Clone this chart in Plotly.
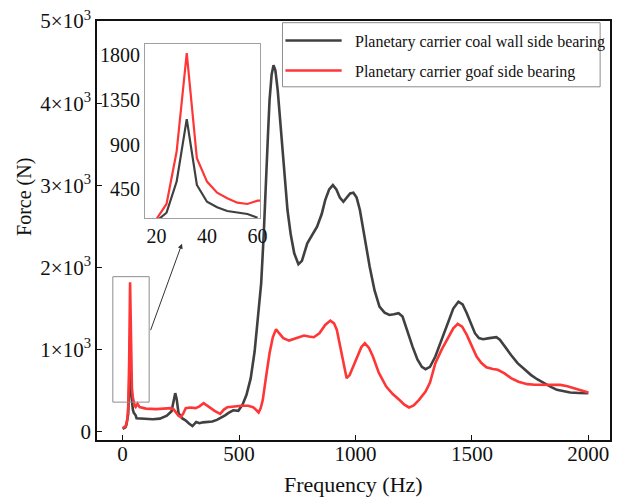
import plotly.graph_objects as go

# ---- data: bearing force spectra (Hz, N) ----
freq_coal = [0, 4, 8, 12, 16, 20, 24, 28, 32, 36, 40, 44, 48, 52, 56, 60, 75, 100, 130, 160,
             190, 210, 220, 226, 232, 240, 255, 270, 285, 300, 316, 330, 345, 365, 385, 405,
             420, 440, 455, 475, 497, 515, 532, 550, 567, 582, 595, 606, 617, 624, 631, 640,
             648, 656, 666, 676, 687, 698, 708, 722, 737, 755, 770, 793, 815, 835, 855, 870,
             887, 903, 918, 933, 948, 962, 977, 991, 1005, 1019, 1040, 1061, 1082, 1103,
             1125, 1146, 1165, 1185, 1202, 1224, 1245, 1266, 1285, 1301, 1320, 1343, 1370,
             1400, 1420, 1442, 1460, 1478, 1495, 1513, 1530, 1548, 1575, 1605, 1620, 1640,
             1668, 1696, 1725, 1753, 1780, 1809, 1837, 1865, 1895, 1922, 1960, 2000]
force_coal = [35, 40, 45, 55, 80, 130, 214, 527, 1155, 493, 325, 269, 231, 214, 201, 164, 160,
              155, 152, 160, 195, 250, 380, 470, 400, 230, 165, 140, 100, 70, 120, 105, 115,
              118, 125, 145, 166, 200, 230, 262, 255, 330, 450, 650, 980, 1400, 1807, 2400,
              3023, 3600, 4036, 4350, 4461, 4400, 4158, 3820, 3428, 3030, 2699, 2400, 2172,
              2039, 2080, 2294, 2400, 2496, 2650, 2820, 2950, 3003, 2950, 2850, 2800, 2850,
              2900, 2909, 2850, 2699, 2350, 2010, 1720, 1523, 1450, 1422, 1430, 1443, 1402,
              1200, 1037, 880, 790, 762, 790, 916, 1120, 1362, 1500, 1584, 1550, 1443, 1320,
              1200, 1140, 1127, 1140, 1151, 1120, 1037, 935, 835, 760, 693, 640, 592, 550,
              511, 490, 478, 472, 470]

freq_goaf = [0, 4, 8, 12, 16, 20, 24, 28, 32, 36, 40, 44, 48, 52, 56, 60, 64, 73, 100, 144,
             180, 207, 220, 231, 240, 250, 260, 271, 290, 313, 330, 348, 362, 377, 395, 419,
             435, 450, 480, 510, 539, 560, 575, 584, 593, 602, 615, 631, 645, 659, 672, 690,
             715, 745, 779, 800, 821, 845, 870, 892, 908, 920, 940, 962, 975, 991, 1010,
             1025, 1040, 1058, 1075, 1100, 1132, 1160, 1188, 1210, 1230, 1250, 1273, 1301,
             1320, 1343, 1370, 1400, 1420, 1439, 1458, 1478, 1500, 1520, 1540, 1562, 1590,
             1611, 1640, 1668, 1700, 1738, 1770, 1809, 1845, 1880, 1910, 1936, 1970, 2000]
force_goaf = [45, 50, 55, 65, 95, 150, 302, 829, 1820, 762, 527, 416, 359, 315, 302, 335, 340,
              300, 282, 276, 278, 288, 270, 227, 195, 180, 220, 288, 295, 288, 310, 349, 320,
              288, 255, 219, 270, 300, 310, 316, 316, 300, 262, 235, 290, 389, 650, 956, 1150,
              1248, 1200, 1140, 1110, 1140, 1171, 1160, 1151, 1200, 1300, 1353, 1320, 1240,
              950, 653, 690, 794, 930, 1030, 1078, 1020, 916, 720, 551, 460, 389, 330, 296,
              320, 389, 490, 600, 835, 1000, 1159, 1260, 1313, 1280, 1179, 1050, 916, 840,
              786, 765, 754, 710, 653, 610, 580, 572, 571, 570, 571, 555, 531, 505, 478]

series_names = ["Planetary carrier coal wall side bearing",
                "Planetary carrier goaf side bearing"]
series_colors = ["#404040", "#ff3636"]

x_ticks = [0, 500, 1000, 1500, 2000]
y_ticks = [0, 1000, 2000, 3000, 4000, 5000]
y_ticktext = ["0"] + [f"{k}×10<sup>3</sup>" for k in range(1, 6)]
inset_x_ticks = [20, 40, 60]
inset_y_ticks = [450, 900, 1350, 1800]

# ---- page geometry ----
W, H = 619, 497
ML, MR, MT, MB = 97, 2, 21, 57
PW, PH = W - ML - MR, H - MT - MB


def fx(px):
    """pixel column -> paper x"""
    return (px - ML) / PW


def fy(py):
    """pixel row -> paper y"""
    return (H - MB - py) / PH


FONT = "Liberation Serif"

fig = go.Figure()

# main spectra
for xs, ys, name, col in [(freq_coal, force_coal, series_names[0], series_colors[0]),
                          (freq_goaf, force_goaf, series_names[1], series_colors[1])]:
    fig.add_trace(go.Scatter(x=xs, y=ys, mode="lines", name=name,
                             line=dict(color=col, width=2.6), showlegend=False,
                             xaxis="x", yaxis="y"))

# zoomed inset of the low-frequency peak
for xs, ys, col in [(freq_coal, force_coal, series_colors[0]),
                    (freq_goaf, force_goaf, series_colors[1])]:
    sel = [i for i, f in enumerate(xs) if f <= 64]
    fig.add_trace(go.Scatter(x=[xs[i] for i in sel], y=[ys[i] for i in sel], mode="lines",
                             line=dict(color=col, width=2.2), showlegend=False,
                             xaxis="x2", yaxis="y2"))

axis_common = dict(showgrid=False, zeroline=False, showline=True,
                   tickfont=dict(family=FONT, size=21, color="#111"))

fig.update_layout(
    width=W, height=H,
    margin=dict(l=ML, r=MR, t=MT, b=MB),
    paper_bgcolor="white", plot_bgcolor="rgba(0,0,0,0)",
    font=dict(family=FONT, color="#111"),
    xaxis=dict(axis_common, range=[-110, 2093], tickvals=x_ticks, ticks="inside",
               ticklen=5, tickwidth=1.3, tickcolor="#111", linecolor="#111", linewidth=1.5,
               mirror=True, domain=[0, 1], ticklabelstandoff=-6),
    yaxis=dict(axis_common, range=[-100, 5000], tickvals=y_ticks, ticktext=y_ticktext,
               ticks="inside", ticklen=5, tickwidth=1.3, tickcolor="#111",
               linecolor="#111", linewidth=1.5, mirror=True, domain=[0, 1]),
    xaxis2=dict(axis_common, anchor="y2", range=[15.5, 61], tickvals=inset_x_ticks,
                ticks="", linecolor="#a0a0a0", linewidth=1, mirror=True,
                domain=[fx(145.7), fx(262.3)], tickfont=dict(family=FONT, size=20, color="#111")),
    yaxis2=dict(axis_common, anchor="x2", range=[158, 1911], tickvals=inset_y_ticks,
                ticks="", linecolor="#a0a0a0", linewidth=1, mirror=True,
                domain=[fy(218.3), fy(44)], tickfont=dict(family=FONT, size=20, color="#111")),
)

shapes = []
annotations = []

# box marking the zoomed region on the main axes
shapes.append(dict(type="rect", xref="x", yref="y", x0=-42, x1=114, y0=361, y1=1888,
                   line=dict(color="#8c8c8c", width=1)))

# arrow from the marked box to the inset
annotations.append(dict(xref="x", yref="y", axref="x", ayref="y", x=255, y=2290,
                        ax=118, ay=1219, text="", showarrow=True, arrowhead=2,
                        arrowsize=1, arrowwidth=1, arrowcolor="#333"))

# legend box
shapes.append(dict(type="rect", xref="paper", yref="paper", x0=fx(285), x1=fx(607),
                   y0=fy(86.8), y1=fy(22.7), line=dict(color="#8c8c8c", width=1),
                   fillcolor="white", layer="above"))
for i, (name, col) in enumerate(zip(series_names, series_colors)):
    ly = 40.5 + 30 * i
    shapes.append(dict(type="line", xref="paper", yref="paper", x0=fx(288), x1=fx(345),
                       y0=fy(ly), y1=fy(ly), line=dict(color=col, width=2.6), layer="above"))
    annotations.append(dict(xref="paper", yref="paper", x=fx(356), y=fy(ly + 1.5),
                            xanchor="left", yanchor="middle", text=name, showarrow=False,
                            font=dict(family=FONT, size=16, color="#111")))

# axis titles
annotations.append(dict(xref="paper", yref="paper", x=fx(357), y=fy(484),
                        xanchor="center", yanchor="middle", text="Frequency (Hz)",
                        showarrow=False, font=dict(family=FONT, size=22, color="#111")))
annotations.append(dict(xref="paper", yref="paper", x=fx(24), y=fy(197),
                        xanchor="center", yanchor="middle", text="Force (N)", textangle=-90,
                        showarrow=False, font=dict(family=FONT, size=20, color="#111")))

fig.update_layout(shapes=shapes, annotations=annotations)

fig.write_html("out.html")
